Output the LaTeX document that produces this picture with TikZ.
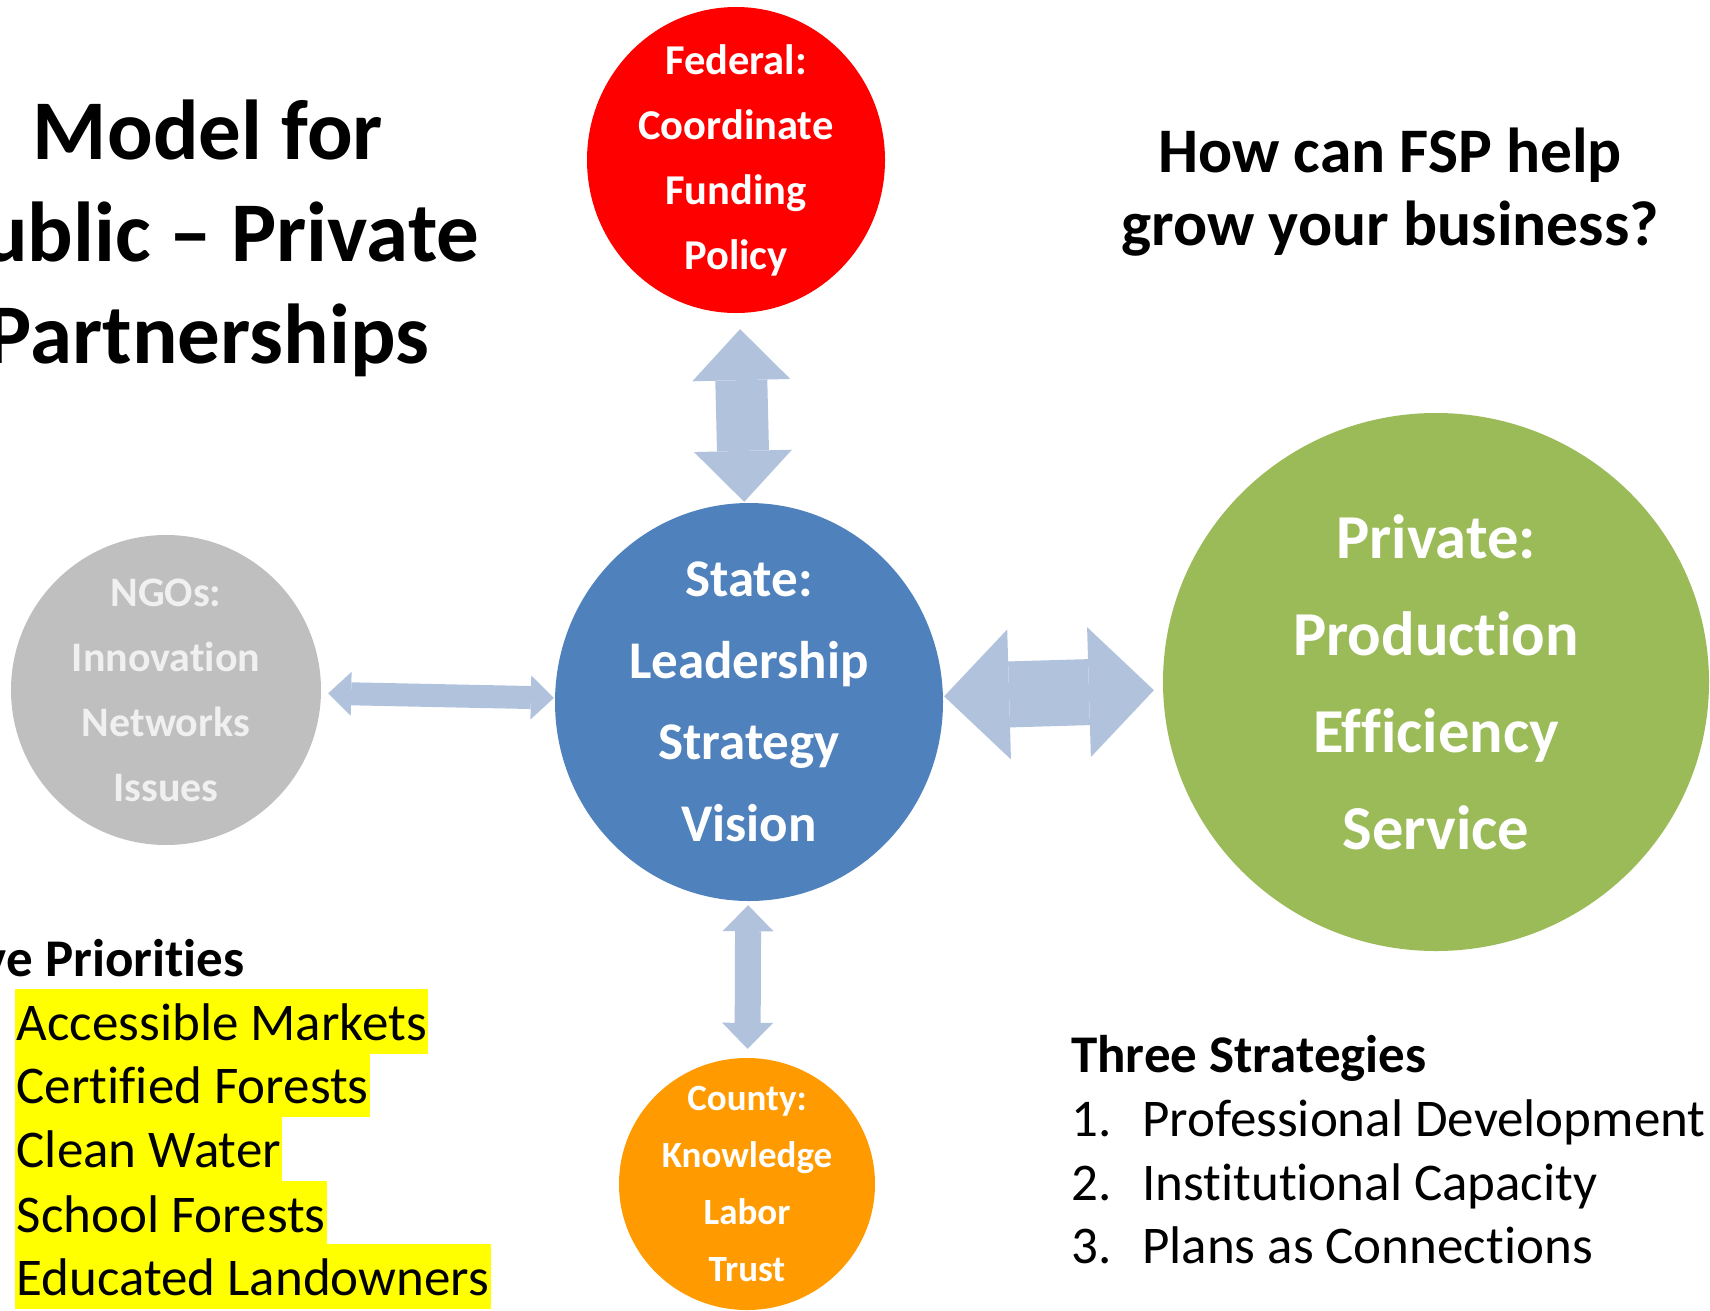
\documentclass[tikz,border=0pt]{standalone}
\usepackage{fontspec}
\setmainfont{Carlito}[Ligatures=NoCommon]
\usetikzlibrary{arrows.meta,shapes.geometric}

\definecolor{fedred}{HTML}{FF0000}
\definecolor{stateblue}{HTML}{4F81BD}
\definecolor{privgreen}{HTML}{9BBB59}
\definecolor{countyorange}{HTML}{FF9A00}
\definecolor{ngogrey}{HTML}{BFBFBF}
\definecolor{arrowblue}{HTML}{B1C2DD}
\definecolor{marker}{HTML}{FFFF00}

\newcommand{\fsz}[2]{\fontsize{#1}{#2}\selectfont}

\begin{document}
\begin{tikzpicture}
  [x=1pt,y=-1pt,
   every node/.style={inner sep=0pt},
   party/.style={ellipse},
   partytext/.style={text=white,align=center},
   prio/.style={anchor=base west,fill=marker,inner xsep=1.5pt,
                text height=51pt,text depth=14pt,font=\fsz{53}{64}},
   strat/.style={anchor=base west,font=\fsz{53}{64}}]
  \useasboundingbox (0,0) rectangle (1710,1310);
  \clip (0,0) rectangle (1710,1310);
  % titles
  \node[align=center,font=\bfseries\fsz{85}{102}] (title) at (208,238)
    {Model for\\Public – Private\\Partnerships};
  \node[align=center,font=\bfseries\fsz{63.5}{73}] (question) at (1390,192)
    {How can FSP help\\grow your business?};
  % the five partners
  \node[party,fill=fedred,minimum width=298pt,minimum height=306pt,
        label={[partytext,font=\bfseries\fsz{42.5}{65}]center:{Federal:\\Coordinate\\Funding\\Policy}}]
    (fed) at (736,160) {};
  \node[party,fill=stateblue,minimum width=388pt,minimum height=398pt,
        label={[partytext,font=\bfseries\fsz{53}{81.5}]center:{State:\\Leadership\\Strategy\\Vision}}]
    (state) at (749,702) {};
  \node[party,fill=ngogrey,minimum width=310pt,minimum height=310pt,
        label={[partytext,text=white!94!black,font=\bfseries\fsz{42}{65}]center:{NGOs:\\Innovation\\Networks\\Issues}}]
    (ngo) at (166,690) {};
  \node[party,fill=privgreen,minimum width=546pt,minimum height=538pt,
        label={[partytext,font=\bfseries\fsz{62.5}{97}]center:{Private:\\Production\\Efficiency\\Service}}]
    (priv) at (1436,682) {};
  \node[party,fill=countyorange,minimum width=256pt,minimum height=252pt,
        label={[partytext,font=\bfseries\fsz{37}{57}]center:{County:\\Knowledge\\Labor\\Trust}}]
    (county) at (747,1184) {};
  % block arrows
  \foreach \from/\to/\shaft/\head/\len/\gapa/\gapb in
    {fed/state/52pt/98pt/51pt/16pt/1pt,
     state/county/26pt/51pt/26pt/4pt/9pt,
     ngo/state/23pt/44pt/23pt/7pt/1pt,
     state/priv/66pt/130pt/65pt/1pt/9pt}
    \draw[arrowblue,line width=\shaft,shorten <=\gapa,shorten >=\gapb,
          arrows={Triangle[width=\head,length=\len,line width=0pt]-Triangle[width=\head,length=\len,line width=0pt]}]
      (\from) -- (\to);
  % priorities
  \node[anchor=base east,font=\bfseries\fsz{53}{64}] (prios) at (245,976) {Five Priorities};
  \node[prio] (p1) at (15,1040) {Accessible Markets};
  \node[prio] (p2) at (15,1103) {Certified Forests};
  \node[prio] (p3) at (15,1167) {Clean Water};
  \node[prio] (p4) at (15,1232) {School Forests};
  \node[prio] (p5) at (15,1295) {Educated Landowners};
  % strategies
  \node[strat,font=\bfseries\fsz{53}{64}] (strats) at (1071,1072) {Three Strategies};
  \node[strat] (s1) at (1071,1136) {\makebox[71pt][l]{1.}Professional Development};
  \node[strat] (s2) at (1071,1200) {\makebox[71pt][l]{2.}Institutional Capacity};
  \node[strat] (s3) at (1071,1263) {\makebox[71pt][l]{3.}Plans as Connections};
\end{tikzpicture}
\end{document}
